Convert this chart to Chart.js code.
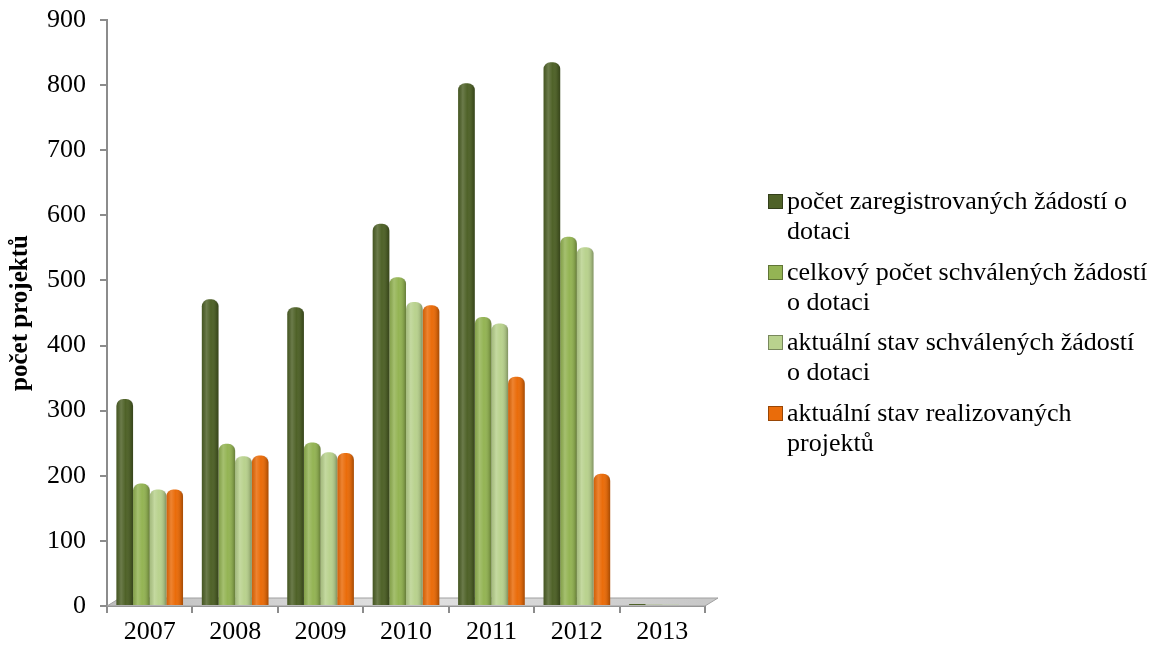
<!DOCTYPE html>
<html><head><meta charset="utf-8">
<script src="https://cdn.jsdelivr.net/npm/chart.js@4"></script>
<style>
html,body{margin:0;padding:0;background:#fff;}
#wrap{position:relative;width:1160px;height:651px;overflow:hidden;}
#legend{position:absolute;left:768px;top:186px;font-family:"Liberation Serif","Times New Roman",serif;font-size:26px;line-height:30px;color:#000;}
.item{display:flex;align-items:flex-start;margin-bottom:10.7px;}
.mk{width:15px;height:15px;flex:0 0 15px;margin-top:8px;margin-right:4px;box-sizing:border-box;}
</style></head>
<body><div id="wrap"><canvas id="c" width="1160" height="651"></canvas><div id="legend"></div></div>
<script>
const categories = ['2007','2008','2009','2010','2011','2012','2013'];
const seriesNames = [
  'počet zaregistrovaných žádostí o dotaci',
  'celkový počet schválených žádostí o dotaci',
  'aktuální stav schválených žádostí o dotaci',
  'aktuální stav realizovaných projektů'
];
const legendLines = [
  ['počet zaregistrovaných žádostí o','dotaci'],
  ['celkový počet schválených žádostí','o dotaci'],
  ['aktuální stav schválených žádostí','o dotaci'],
  ['aktuální stav realizovaných','projektů']
];
const registered      = [318, 471, 459, 587, 803, 835, 3];
const approvedTotal   = [188, 249, 251, 505, 444, 567, 2];
const approvedCurrent = [179, 230, 236, 467, 434, 551, 2];
const realized        = [179, 231, 235, 462, 352, 203, 0];
const yTickValues = [0,100,200,300,400,500,600,700,800,900];
const colors = ['#4F6228','#94B454','#B9D28E','#EA6C0A'];
const seriesValues = [registered, approvedTotal, approvedCurrent, realized];

const serif = '"Liberation Serif","Times New Roman",serif';

const floorPlugin = {
  id:'floor',
  beforeDatasetsDraw(chart){
    const {ctx, chartArea:a} = chart;
    const d = 8, s = 13;
    ctx.save();
    ctx.beginPath();
    ctx.moveTo(a.left, a.bottom);
    ctx.lineTo(a.left + s, a.bottom - d);
    ctx.lineTo(a.right + s, a.bottom - d);
    ctx.lineTo(a.right, a.bottom);
    ctx.closePath();
    const g = ctx.createLinearGradient(a.left,0,a.right,0);
    g.addColorStop(0,'#bdbdbd'); g.addColorStop(0.5,'#e2e2e2'); g.addColorStop(1,'#c8c8c8');
    ctx.fillStyle = g; ctx.fill();
    ctx.strokeStyle = '#a0a0a0'; ctx.lineWidth = 1; ctx.stroke();
    ctx.restore();
  }
};
const shadePlugin = {
  id:'shade',
  afterDatasetsDraw(chart){
    const ctx = chart.ctx;
    chart.data.datasets.forEach((ds,i)=>{
      const meta = chart.getDatasetMeta(i);
      meta.data.forEach(el=>{
        const w = el.width, x0 = el.x - w/2, h = el.base - el.y;
        if (h < 1) return;
        const r = Math.min(6, h/2);
        const g = ctx.createLinearGradient(x0,0,x0+w,0);
        g.addColorStop(0,'rgba(0,0,0,0.10)');
        g.addColorStop(0.28,'rgba(255,255,255,0.16)');
        g.addColorStop(0.55,'rgba(255,255,255,0)');
        g.addColorStop(0.85,'rgba(0,0,0,0.12)');
        g.addColorStop(1,'rgba(0,0,0,0.30)');
        ctx.save();
        ctx.beginPath();
        ctx.roundRect(x0, el.y, w, h, [r,r,0,0]);
        ctx.fillStyle = g; ctx.fill();
        ctx.restore();
      });
    });
  }
};

new Chart(document.getElementById('c'), {
  type:'bar',
  data:{
    labels: categories,
    datasets: seriesValues.map((v,i)=>({
      label: seriesNames[i],
      data: v,
      backgroundColor: colors[i],
      borderWidth: 0,
      borderRadius: {topLeft:7, topRight:7, bottomLeft:0, bottomRight:0},
      borderSkipped: 'bottom',
      categoryPercentage: 0.78,
      barPercentage: 1.0
    }))
  },
  options:{
    responsive:false,
    animation:false,
    devicePixelRatio:1,
    layout:{padding:{left:0, top:20, right:455, bottom:0}},
    plugins:{legend:{display:false}, tooltip:{enabled:false}},
    scales:{
      x:{
        grid:{display:true, drawOnChartArea:false, drawTicks:true, tickLength:7, color:'#8c8c8c', lineWidth:2},
        border:{display:true, color:'#8c8c8c', width:2},
        ticks:{color:'#000', font:{family:serif, size:26}, padding:4},
        afterFit(s){ s.height = 45; }
      },
      y:{
        min:0, max:900,
        afterBuildTicks(s){ s.ticks = yTickValues.map(v=>({value:v})); },
        grid:{display:true, drawOnChartArea:false, drawTicks:true, tickLength:7, color:'#8c8c8c', lineWidth:2},
        border:{display:true, color:'#8c8c8c', width:2},
        ticks:{color:'#000', font:{family:serif, size:26}, padding:14},
        title:{display:true, text:'počet projektů', color:'#000', font:{family:serif, size:25, weight:'bold'}, padding:{top:6,bottom:0}},
        afterFit(s){ s.width = 107; s.paddingTop = 0; s.paddingBottom = 0; }
      }
    }
  },
  plugins:[floorPlugin, shadePlugin]
});

const lg = document.getElementById('legend');
legendLines.forEach((lines,i)=>{
  const it = document.createElement('div'); it.className='item';
  const mk = document.createElement('div'); mk.className='mk';
  mk.style.background = colors[i];
  mk.style.border = '1px solid rgba(0,0,0,0.35)';
  const tx = document.createElement('div');
  lines.forEach((t,j)=>{ if(j) tx.appendChild(document.createElement('br')); tx.appendChild(document.createTextNode(t)); });
  it.appendChild(mk); it.appendChild(tx); lg.appendChild(it);
});
</script>
</body></html>
